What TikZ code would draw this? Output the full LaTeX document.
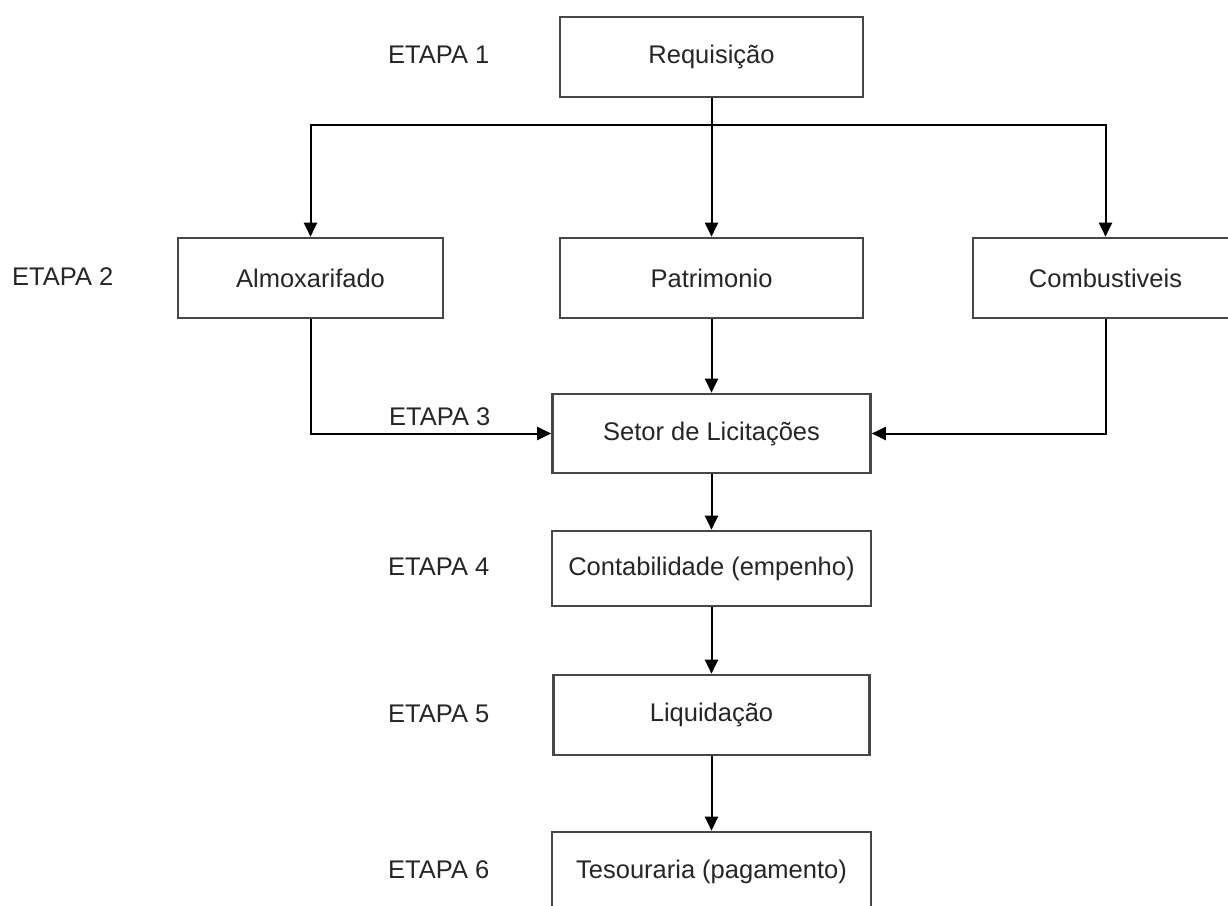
\documentclass[tikz,border=0pt]{standalone}
\usepackage{xcolor}
\usepackage{fontspec}
\setmainfont{Liberation Sans}
\usepackage{tikz}
\usetikzlibrary{arrows.meta, positioning}

\begin{document}
\begin{tikzpicture}[x=1pt, y=-1pt,
				>={Triangle[length=14pt, width=13pt]},
				every node/.style={font=\fontsize{25.5}{30}\selectfont, text=black!85},
				box/.style={draw=black!72, line width=2.6pt, fill=white, inner sep=0pt, minimum height=80pt},
				etapa/.style={anchor=west, inner sep=0pt},
				link/.style={line width=2pt, black}]
				\useasboundingbox (0,0) rectangle (1228,905);
				\clip (0,0) rectangle (1228,905);
				% caixas
				\node at (711.5,57) (req) [box, minimum width=303pt] {Requisição};
				\node at (310.5,278) (almox) [box, minimum width=265pt] {Almoxarifado};
				\node at (711.5,278) (patr) [box, minimum width=303pt] {Patrimonio};
				\node at (1105.5,278) (comb) [box, minimum width=265pt] {Combustiveis};
				\node at (711.5,433.5) (setor) [box, minimum width=318pt, minimum height=79pt] {Setor de Licitações};
				\node at (711.5,568.5) (contab) [box, minimum width=319pt, minimum height=75pt] {Contabilidade (empenho)};
				\node at (711.5,715) (liq) [box, minimum width=316pt] {Liquidação};
				\node at (711.5,872) (tes) [box, minimum width=319pt] {Tesouraria (pagamento)};
				% etapas
				\node at (388,55) (e1) [etapa] {ETAPA 1};
				\node at (12,277) (e2) [etapa] {ETAPA 2};
				\node at (389,417) (e3) [etapa] {ETAPA 3};
				\node at (388,567) (e4) [etapa] {ETAPA 4};
				\node at (388,714) (e5) [etapa] {ETAPA 5};
				\node at (388,870) (e6) [etapa] {ETAPA 6};
				% ligacoes
				\coordinate (split) at (711.5,125);
				\draw[link] (req) -- (split);
				\draw[link, ->] (split) -| (almox);
				\draw[link, ->] (split) -- (patr);
				\draw[link, ->] (split) -| (comb);
				\draw[link, ->] (almox) |- (setor);
				\draw[link, ->] (patr) -- (setor);
				\draw[link, ->] (comb) |- (setor);
				\draw[link, ->] (setor) -- (contab);
				\draw[link, ->] (contab) -- (liq);
				\draw[link, ->] (liq) -- (tes);
			\end{tikzpicture}
\end{document}
